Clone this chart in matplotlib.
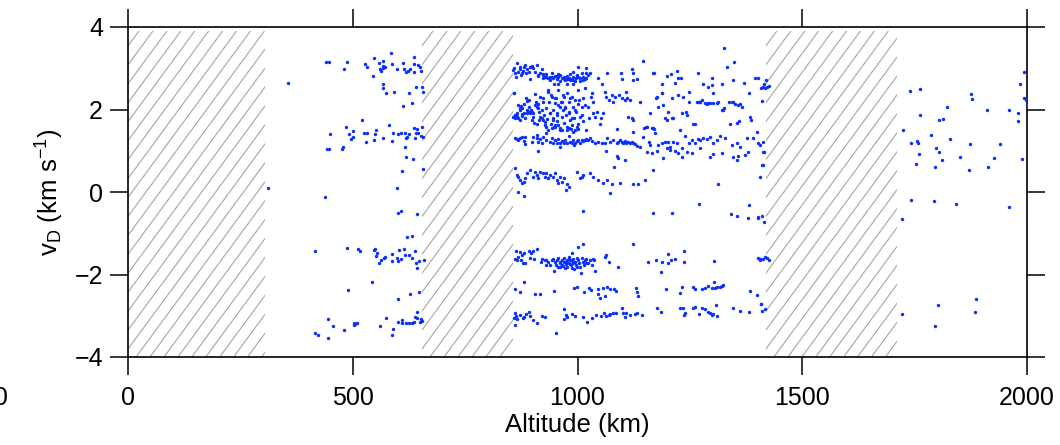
import numpy as np
import matplotlib
matplotlib.use("Agg")
import matplotlib.pyplot as plt
from matplotlib.patches import Rectangle

plt.rcParams['font.family'] = ['Liberation Sans', 'DejaVu Sans']
plt.rcParams['mathtext.fontset'] = 'custom'
plt.rcParams['mathtext.rm'] = 'Liberation Sans'
plt.rcParams['mathtext.it'] = 'Liberation Sans'

# ---------------- data: (altitude km, Doppler velocity km/s) ----------------
x_ticks = [0, 500, 1000, 1500, 2000]
y_ticks = [-4, -2, 0, 2, 4]
hatched_ranges = [(0, 305), (654, 857), (1419, 1711)]

pts_low_alt = [
    (311, 0.10), (357, 2.65), (438, -0.13), (415, -1.42), (440, 3.16), (447, 3.16),
    (442, 1.05), (448, 1.05), (449, 1.40), (477, 1.05), (417, -3.42), (422, -3.47),
    (444, -3.07), (444, -3.54), (456, -3.24), (481, -3.35),
    (487, 3.15), (480, 2.97), (528, 3.10), (531, 3.04), (548, 3.25), (545, 2.81),
    (559, 3.13), (567, 3.18), (567, 3.05), (561, 2.97), (562, 2.93), (572, 3.02),
    (568, 3.01), (585, 3.36), (588, 3.11), (599, 2.98), (612, 3.13), (615, 2.98),
    (619, 2.90), (622, 2.94), (628, 2.98), (636, 3.27), (637, 3.10), (637, 2.90),
    (646, 3.07), (650, 3.04), (652, 2.93),
    (568, 2.63), (568, 2.51), (574, 2.39), (591, 2.42), (625, 2.40), (641, 2.55),
    (653, 2.55), (656, 2.42), (631, 2.15), (612, 2.09),
    (484, 1.57), (491, 1.41), (500, 1.47), (500, 1.33), (497, 1.28), (478, 1.08),
    (521, 1.75), (525, 1.42), (531, 1.44), (529, 1.21), (552, 1.50), (550, 1.41),
    (547, 1.27), (567, 1.30), (581, 1.62), (589, 1.44), (588, 1.24), (601, 1.41),
    (607, 1.44), (616, 1.44), (620, 1.34), (626, 1.40), (618, 1.31), (636, 1.54),
    (644, 1.52), (646, 1.44), (641, 1.44), (639, 1.30), (653, 1.57), (652, 1.36),
    (657, 1.33), (616, 1.10), (618, 0.85), (634, 0.81), (610, 0.50), (657, 0.55),
    (598, 0.10), (601, -0.50), (608, -0.47), (644, -0.53),
    (620, -1.10), (632, -1.07), (487, -1.35), (512, -1.37), (516, -1.42), (547, -1.41),
    (550, -1.38), (555, -1.49), (551, -1.56), (558, -1.71), (562, -1.65), (570, -1.61),
    (572, -1.57), (587, -1.50), (587, -1.67), (598, -1.60), (601, -1.67), (608, -1.62),
    (603, -1.40), (613, -1.38), (617, -1.52), (625, -1.52), (632, -1.61), (638, -1.44),
    (641, -1.71), (647, -1.67), (644, -1.84), (659, -1.65),
    (489, -2.37), (542, -2.19), (601, -2.59), (627, -2.47), (647, -2.43),
    (502, -3.18), (503, -3.22), (509, -3.17), (506, -3.19), (560, -3.24), (574, -3.05),
    (589, -3.31), (588, -3.46), (601, -3.16), (610, -3.10), (610, -3.17), (618, -3.18),
    (625, -3.17), (632, -3.18), (637, -3.15), (638, -3.03), (643, -3.05), (644, -2.92),
    (650, -3.15), (653, -3.13), (652, -3.08),
]

pts_mid_top = [
    (857, 2.96), (861, 2.88), (865, 3.12), (868, 2.92), (872, 2.97), (876, 2.89),
    (880, 3.04), (883, 3.08), (887, 2.97), (891, 2.92), (894, 3.02), (898, 3.05),
    (902, 3.00), (905, 2.92), (909, 3.08), (863, 2.80), (874, 2.84), (894, 2.73),
    (885, 2.88), (878, 2.94), (871, 3.02), (859, 3.00),
    (913, 2.84), (917, 2.88), (920, 2.97), (924, 2.84), (928, 2.80), (931, 2.86),
    (935, 2.76), (939, 2.80), (943, 2.88), (946, 2.76), (950, 2.81), (954, 2.73),
    (957, 2.80), (961, 2.84), (965, 2.76), (969, 2.80), (972, 2.71), (976, 2.81),
    (980, 2.76), (983, 2.86), (987, 2.73), (991, 2.80), (994, 2.70), (998, 2.81),
    (1002, 3.04), (1006, 2.76), (1009, 2.88), (1013, 2.80), (1017, 2.73), (1020, 3.00),
    (1024, 2.84), (1028, 2.88), (939, 2.71), (961, 2.68), (983, 2.71), (1006, 2.70),
    (957, 2.63), (948, 2.63), (976, 2.63), (1020, 2.76), (924, 2.76), (943, 2.78),
    (969, 2.73), (991, 2.71), (1002, 2.78), (1013, 2.71), (931, 2.78), (954, 2.81),
    (976, 2.73), (997, 2.76),
    (913, 2.82), (924, 2.85), (976, 2.74), (1020, 2.88), (998, 2.84), (957, 2.85),
    (935, 2.77), (991, 2.90),
    (1046, 2.76), (1054, 2.63), (1065, 2.88), (1061, 2.43), (1076, 2.35), (1080, 2.19),
    (1096, 2.88), (1098, 2.73), (1108, 2.43), (1117, 2.23), (1121, 2.97), (1124, 2.88),
    (1123, 2.71), (1133, 2.73), (1146, 3.18), (1169, 2.89), (1170, 2.88), (1176, 2.31),
    (1187, 2.39), (1189, 2.63), (1198, 2.82), (1207, 2.86), (1210, 2.27), (1217, 2.65),
    (1221, 2.94), (1224, 2.76), (1230, 2.76), (1234, 2.31), (1247, 2.17), (1269, 2.88),
    (1265, 2.17), (1271, 2.19), (1280, 2.62), (1291, 2.55), (1299, 2.76), (1299, 2.59),
    (1302, 2.41), (1321, 2.61), (1326, 3.48), (1332, 3.04), (1345, 2.71), (1349, 3.14),
    (1371, 2.65), (1382, 2.39), (1395, 2.76), (1402, 2.76), (1408, 2.53), (1410, 2.21),
    (1413, 2.55), (1417, 2.51), (1421, 2.55), (1419, 2.71), (1425, 2.57), (1415, 2.63),
]

pts_mid_two = [
    (859, 2.41), (861, 1.87), (863, 1.81), (865, 1.91), (868, 1.79), (872, 1.99),
    (874, 2.08), (876, 1.84), (880, 1.92), (883, 1.79), (887, 2.21), (891, 2.05),
    (893, 1.95), (894, 1.91), (898, 1.75), (902, 1.91), (905, 2.38), (908, 2.19),
    (909, 2.07), (913, 2.13), (915, 1.95), (917, 1.81), (920, 1.99), (923, 1.75),
    (924, 2.27), (926, 1.87), (928, 1.63), (931, 2.03), (933, 1.76), (935, 2.43),
    (937, 2.17), (939, 1.91), (940, 1.66), (943, 2.31), (945, 1.99), (946, 1.79),
    (948, 1.58), (950, 2.15), (952, 2.27), (954, 1.91), (955, 1.71), (957, 2.47),
    (960, 2.05), (961, 1.54), (963, 2.19), (965, 1.83), (967, 1.99), (969, 1.68),
    (970, 2.31), (972, 2.07), (974, 1.87), (976, 1.50), (977, 2.41), (980, 2.19),
    (982, 1.95), (983, 1.75), (985, 1.52), (987, 2.31), (989, 2.07), (991, 2.63),
    (992, 1.79), (994, 2.23), (997, 1.95), (998, 1.58), (1000, 2.47), (1002, 2.13),
    (1004, 2.23), (1006, 1.83), (1009, 2.05), (1012, 2.27), (1013, 1.71), (1017, 2.51),
    (1020, 1.50), (1024, 2.07), (1026, 1.79), (1029, 2.31), (1032, 2.39), (1034, 2.19),
    (857, 1.83), (860, 1.79), (866, 1.84), (871, 1.75), (877, 2.03), (881, 2.13),
    (888, 1.91), (896, 1.99), (900, 1.81), (903, 1.68), (911, 1.66), (915, 1.75),
    (930, 1.58), (935, 1.50), (943, 1.54), (950, 1.58), (957, 1.63), (965, 1.50),
    (980, 1.54), (987, 1.63), (994, 1.50), (1002, 1.52),
    (859, 2.39), (868, 2.11), (872, 2.03), (861, 1.87), (865, 1.83), (876, 1.88),
    (885, 2.27), (892, 2.23), (887, 1.99), (898, 1.95), (905, 2.11), (913, 2.03),
    (920, 1.79), (928, 1.70), (935, 2.47), (941, 2.35), (950, 2.27), (957, 2.11),
    (965, 2.19), (972, 2.03), (980, 1.91), (987, 1.79), (994, 1.99), (1002, 1.66),
    (1009, 1.87), (1017, 2.11), (950, 1.62), (961, 1.50), (976, 1.58), (991, 1.46),
    (931, 1.42), (909, 1.38), (883, 1.34), (939, 1.91), (946, 1.75), (924, 2.19),
    (917, 2.31), (968, 2.35), (983, 2.27), (954, 1.87),
    (1035, 1.91), (1039, 1.83), (1043, 1.95), (1050, 1.66), (1052, 1.79), (1056, 1.91),
    (1063, 2.31), (1069, 2.23), (1083, 2.31), (1087, 1.52), (1093, 2.35), (1098, 2.27),
    (1106, 2.23), (1111, 2.27), (1113, 1.83), (1121, 1.79), (1124, 1.75), (1123, 1.46),
    (1139, 2.19), (1148, 1.54), (1152, 1.58), (1161, 1.91), (1165, 1.54), (1170, 1.52),
    (1175, 2.27), (1180, 2.07), (1189, 2.39), (1191, 2.11), (1195, 1.79), (1198, 1.75),
    (1202, 1.95), (1210, 1.79), (1213, 1.79), (1224, 2.34), (1232, 1.91), (1241, 1.95),
    (1243, 1.87), (1249, 2.43), (1261, 1.66), (1258, 1.65), (1271, 2.17), (1273, 2.19),
    (1276, 2.23), (1284, 2.15), (1287, 2.13), (1291, 2.15), (1295, 2.15), (1302, 2.15),
    (1310, 2.15), (1313, 2.17), (1321, 1.99), (1324, 2.00), (1326, 2.03), (1336, 2.19),
    (1343, 2.17), (1347, 2.17), (1350, 2.13), (1356, 2.11), (1362, 2.13), (1367, 2.07),
    (1339, 1.66), (1354, 1.68), (1360, 1.71), (1384, 1.83), (1387, 1.75), (1399, 1.46),
]

pts_mid_one = [
    (861, 1.30), (865, 1.28), (868, 1.26), (872, 1.30), (876, 1.34), (880, 1.24),
    (883, 1.16), (898, 1.22), (902, 1.33), (909, 1.30), (913, 1.22), (917, 1.28),
    (920, 1.20), (924, 1.33), (931, 1.26), (939, 1.22), (943, 1.30), (946, 1.18),
    (950, 1.26), (954, 1.20), (957, 1.28), (961, 1.18), (965, 1.24), (969, 1.18),
    (972, 1.26), (976, 1.20), (980, 1.36), (983, 1.22), (987, 1.18), (991, 1.26),
    (994, 1.20), (998, 1.24), (1002, 1.26), (1006, 1.20), (1009, 1.26), (1013, 1.24),
    (1017, 1.26), (1020, 1.28), (1024, 1.26), (1028, 1.30), (1032, 1.24), (1039, 1.20),
    (1046, 1.22), (1054, 1.18), (1061, 1.20), (1065, 1.30), (1072, 1.22), (1080, 1.26),
    (1087, 1.18), (1091, 1.22), (1095, 1.26), (1098, 1.22), (1102, 1.18), (1106, 1.24),
    (1109, 1.20), (1113, 1.22), (1117, 1.18), (1121, 1.22), (1124, 1.20), (1128, 1.16),
    (1132, 1.12), (1139, 1.10), (1146, 1.34), (1154, 1.58), (1158, 1.22), (1161, 1.14),
    (1169, 1.54), (1172, 1.42), (1180, 1.14), (1187, 1.18), (1195, 1.22), (1202, 1.22),
    (1206, 1.10), (1213, 1.22), (1221, 1.18), (1228, 1.50), (1232, 1.06), (1239, 1.36),
    (1247, 1.18), (1254, 1.26), (1261, 1.18), (1267, 1.28), (1273, 1.26), (1280, 1.30),
    (1287, 1.28), (1295, 1.33), (1302, 1.18), (1310, 1.26), (1317, 1.36), (1328, 1.30),
    (1343, 1.14), (1354, 1.18), (1362, 1.10), (1376, 1.30), (1391, 1.30), (1402, 1.18),
    (1413, 1.22), (1415, 0.98), (1406, 1.14), (1412, 0.98), (1410, 0.65),
    (913, 1.00), (960, 1.08), (992, 1.14), (1063, 1.00), (1087, 0.87), (1091, 0.82),
    (1106, 0.78), (1082, 0.61), (1154, 0.98), (1165, 0.95), (1176, 1.00), (1191, 0.82),
    (1198, 1.06), (1206, 1.02), (1217, 1.00), (1224, 0.94), (1232, 0.86), (1243, 0.98),
    (1254, 0.94), (1273, 1.06), (1295, 0.84), (1302, 0.92), (1321, 0.94), (1347, 0.86),
    (1354, 0.78), (1358, 0.87), (1373, 0.90), (1380, 0.98), (1406, 0.37), (1412, 0.65),
    (1167, 0.53), (1313, 0.19),
]

pts_mid_zero = [
    (861, 0.57), (865, 0.41), (868, 0.37), (872, 0.29), (876, 0.21), (880, 0.25),
    (883, 0.33), (887, 0.45), (894, 0.53), (902, 0.37), (905, 0.49), (909, 0.41),
    (913, 0.33), (917, 0.49), (924, 0.45), (928, 0.37), (931, 0.45), (935, 0.33),
    (939, 0.41), (946, 0.37), (950, 0.45), (954, 0.29), (957, 0.21), (961, 0.37),
    (965, 0.25), (969, 0.33), (976, 0.19), (980, 0.13), (998, 0.49), (1006, 0.33),
    (1009, 0.37), (1013, 0.41), (1028, 0.45), (1035, 0.37), (1046, 0.28), (1057, 0.23),
    (1065, 0.29), (1076, 0.19), (1095, 0.23), (1124, 0.19), (1135, 0.19), (1150, 0.28),
    (868, 0.01), (880, -0.10), (974, 0.05), (1072, -0.03), (1013, -0.45), (1167, -0.51),
    (1211, -0.50), (1270, -0.28), (1341, -0.54), (1354, -0.57), (1382, -0.31),
    (1380, -0.62), (1401, -0.60), (1402, -0.64), (1411, -0.58), (1416, -0.72),
]

pts_mid_neg1 = [
    (863, -1.43), (872, -1.45), (876, -1.53), (881, -1.47), (891, -1.43), (896, -1.47),
    (902, -1.42), (911, -1.39), (861, -1.63), (866, -1.65), (874, -1.65), (878, -1.73),
    (883, -1.71), (894, -1.61), (903, -1.63), (868, -1.57),
    (918, -1.69), (920, -1.63), (928, -1.66), (931, -1.65), (935, -1.69), (939, -1.77),
    (943, -1.66), (946, -1.63), (948, -1.91), (950, -1.69), (954, -1.65), (957, -1.61),
    (960, -1.73), (961, -1.81), (965, -1.66), (967, -1.79), (969, -1.61), (972, -1.69),
    (974, -1.75), (976, -1.65), (977, -1.83), (980, -1.71), (982, -1.57), (983, -1.66),
    (985, -1.77), (987, -1.49), (989, -1.69), (991, -1.63), (992, -1.87), (994, -1.69),
    (997, -1.77), (998, -1.61), (1000, -1.34), (1002, -1.66), (1004, -1.71), (1006, -1.81),
    (1007, -1.96), (1009, -1.61), (1012, -1.27), (1013, -1.69), (1014, -1.77), (1017, -1.65),
    (1019, -1.71), (1020, -1.63), (1024, -1.71), (1028, -1.66), (1032, -1.77), (1035, -1.63),
    (1039, -1.91), (1037, -1.66), (957, -1.81), (972, -1.85), (987, -1.85), (931, -1.77),
    (952, -1.77), (965, -1.77), (998, -1.81), (969, -1.69), (976, -1.73), (983, -1.75),
    (991, -1.73), (961, -1.69), (980, -1.63), (987, -1.65),
    (1061, -1.57), (1063, -1.53), (1069, -1.69), (1089, -1.81), (1123, -1.26), (1156, -1.69),
    (1175, -1.66), (1186, -1.93), (1187, -1.69), (1201, -1.71), (1202, -1.51), (1207, -1.65),
    (1218, -1.62), (1238, -1.42), (1238, -1.70), (1304, -1.67), (1401, -1.61), (1406, -1.63),
    (1413, -1.63), (1421, -1.61), (1425, -1.65), (1405, -1.66), (1417, -1.58),
]

pts_mid_neg2 = [
    (861, -2.36), (871, -2.43), (881, -2.19), (905, -2.47), (917, -2.47), (948, -2.39),
    (992, -2.33), (998, -2.31), (1014, -2.42), (1026, -2.33), (1029, -2.38), (1046, -2.36),
    (1045, -2.47), (1050, -2.56), (1056, -2.33), (1062, -2.51), (1065, -2.31), (1072, -2.36),
    (1081, -2.36), (1086, -2.39), (1130, -2.32), (1132, -2.43), (1135, -2.51), (1197, -2.36),
    (1228, -2.44), (1232, -2.31), (1256, -2.31), (1261, -2.34), (1276, -2.36), (1284, -2.33),
    (1291, -2.29), (1299, -2.33), (1304, -2.17), (1306, -2.32), (1311, -2.31), (1317, -2.31),
    (1321, -2.28), (1324, -2.26), (1384, -2.39), (1400, -2.50), (1408, -2.72),
]

pts_mid_neg3 = [
    (861, -2.94), (859, -3.06), (863, -3.01), (861, -3.22), (866, -3.09), (872, -2.98),
    (878, -3.06), (881, -3.02), (885, -2.96), (891, -2.91), (894, -3.01), (902, -3.10),
    (911, -3.18), (920, -3.01), (928, -3.04), (952, -3.43), (969, -3.09), (971, -2.84),
    (976, -3.02), (974, -2.98), (987, -2.96), (994, -3.01), (1013, -3.02), (1022, -3.15),
    (1032, -3.06), (1041, -2.98), (1052, -3.01), (1059, -2.93), (1063, -3.01), (1069, -2.98),
    (1072, -2.96), (1080, -2.94), (1086, -2.93), (1100, -2.80), (1102, -2.94), (1106, -3.04),
    (1108, -2.94), (1117, -2.98), (1128, -2.96), (1132, -2.93), (1143, -2.98), (1176, -2.80),
    (1185, -2.90), (1227, -2.80), (1235, -2.82), (1238, -2.98), (1239, -2.94), (1258, -2.80),
    (1261, -2.78), (1271, -2.96), (1276, -2.82), (1284, -2.84), (1291, -2.90), (1295, -2.94),
    (1299, -2.98), (1302, -2.96), (1308, -2.75), (1311, -3.01), (1345, -2.80), (1362, -2.88),
    (1382, -2.91), (1410, -2.88), (1417, -2.84), (1408, -2.72),
]

pts_high_alt = [
    (1994, 2.91), (1985, 2.62), (1993, 2.29), (1997, 2.23), (1999, 2.11), (1739, 2.46),
    (1763, 2.49), (1875, 2.38), (1878, 2.25), (1821, 2.06), (1761, 1.87), (1805, 1.75),
    (1814, 1.77), (1911, 1.98), (1961, 2.00), (1981, 1.91), (1979, 1.71), (1725, 1.50),
    (1786, 1.38), (1743, 1.20), (1755, 1.24), (1757, 1.20), (1829, 1.29), (1873, 1.17),
    (1940, 1.16), (1798, 1.06), (1805, 0.98), (1760, 0.91), (1850, 0.86), (1811, 0.78),
    (1927, 0.83), (1989, 0.79), (1752, 0.68), (1795, 0.61), (1914, 0.60), (1870, 0.53),
    (1742, -0.19), (1792, -0.23), (1843, -0.30), (1961, -0.36), (1722, -0.65),
    (1886, -2.59), (1803, -2.75), (1885, -2.90), (1723, -2.95), (1795, -3.26),
]

groups = [pts_low_alt, pts_mid_top, pts_mid_two, pts_mid_one, pts_mid_zero,
          pts_mid_neg1, pts_mid_neg2, pts_mid_neg3, pts_high_alt]
alt = np.array([p[0] for g in groups for p in g], dtype=float)
vel = np.array([p[1] for g in groups for p in g], dtype=float)

# ---------------- figure ----------------
W, H = 1060, 445
fig = plt.figure(figsize=(W / 100, H / 100), dpi=100)
ax = fig.add_axes([128 / W, 1 - 357 / H, (1027 - 128) / W, (357 - 27) / H])
ax.set_xlim(0, 2000)
ax.set_ylim(-4, 4)

# hatched (no data) zones, drawn with steep thin grey lines
hatch_col = '#a0a0a0'
slope_dx = 540.0   # km advance of one hatch line across the full height
step = 31.0        # km between hatch lines
for (a0, a1) in hatched_ranges:
    rect = Rectangle((a0, -4), a1 - a0, 7.9, transform=ax.transData,
                     facecolor='none', edgecolor='none')
    ax.add_patch(rect)
    xs = np.arange(a0 - slope_dx - step, a1 + step, step)
    for x0 in xs:
        ln, = ax.plot([x0, x0 + slope_dx], [-4, 4], color=hatch_col, lw=0.75,
                      zorder=1, solid_capstyle='butt')
        ln.set_clip_path(rect)

ax.scatter(alt, vel, s=6, color='#0a30ff', linewidths=0, zorder=3)

ax.set_xticks(x_ticks)
ax.set_yticks(y_ticks)
ax.tick_params(axis='both', which='major', direction='out', length=13, width=1.1,
               labelsize=18, top=True, right=True, labeltop=False, labelright=False,
               color='black')
ax.tick_params(axis='x', pad=8)
ax.tick_params(axis='y', pad=5)
for sp in ax.spines.values():
    sp.set_linewidth(1.2)

ax.set_xlabel('Altitude (km)', fontsize=18.5, labelpad=2)
ax.set_ylabel(r'v$_{\mathrm{D}}$ (km s$^{-1}$)', fontsize=18.5, labelpad=6)

# clipped tick label of neighbouring panel at the far left (cut off as in the source)
fig.text(9 / W, 1 - 398 / H, '2000', ha='right', va='center', fontsize=18)

fig.savefig('out.png', dpi=100)
